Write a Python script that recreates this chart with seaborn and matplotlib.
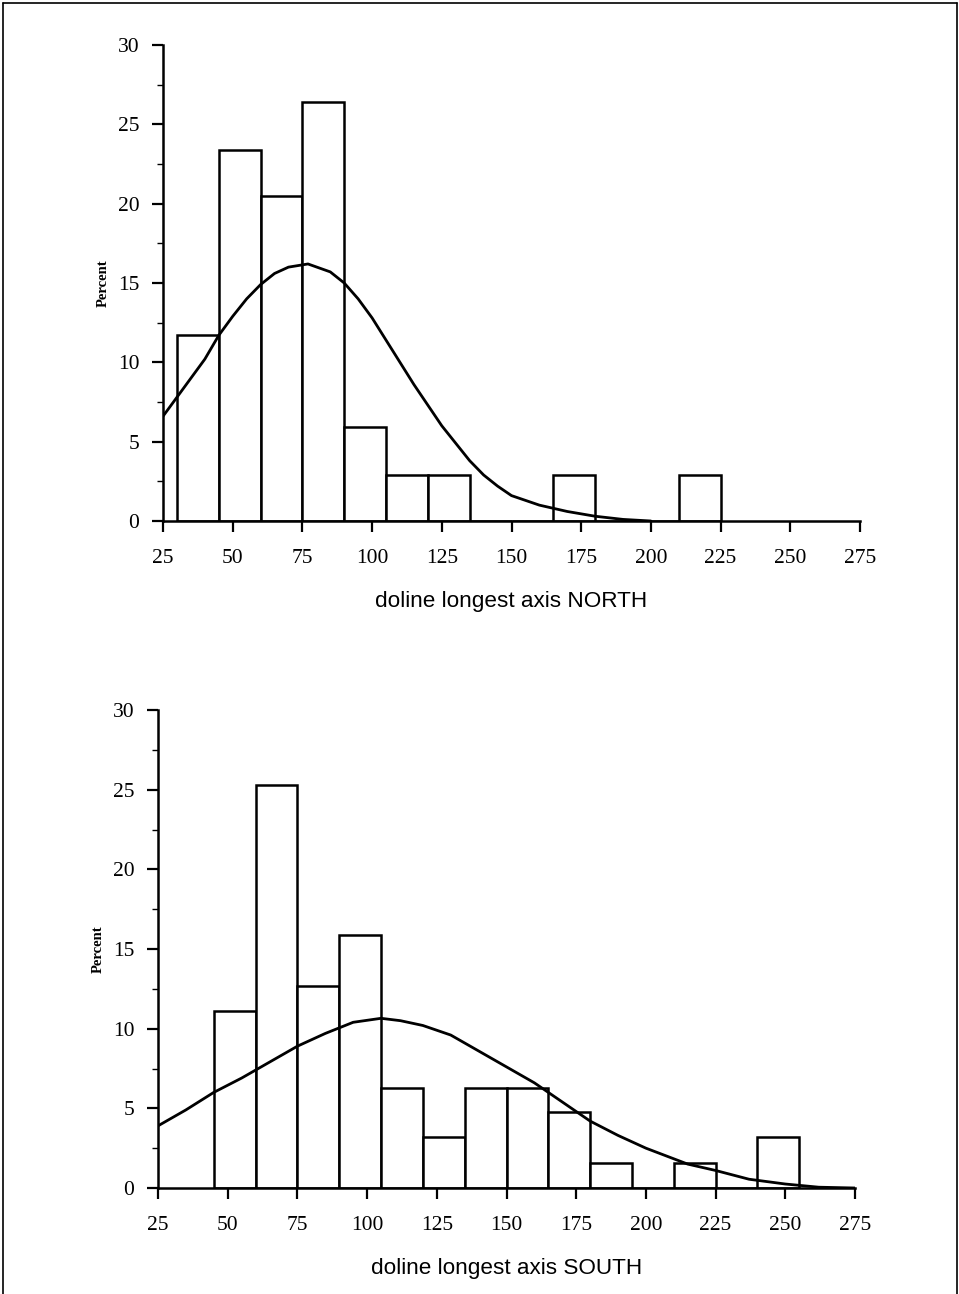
import numpy as np
import matplotlib
matplotlib.use("Agg")
import matplotlib.pyplot as plt
from matplotlib.lines import Line2D
from matplotlib.ticker import MultipleLocator
import seaborn as sns

# ---------------- data ----------------
bin_width = 15
north_bin_start = [30, 45, 60, 75, 90, 105, 120, 165, 210]
north_percent = [11.7, 23.4, 20.5, 26.4, 5.9, 2.9, 2.9, 2.9, 2.9]

south_bin_start = [45, 60, 75, 90, 105, 120, 135, 150, 165, 180, 210, 240]
south_percent = [11.1, 25.3, 12.7, 15.9, 6.3, 3.2, 6.3, 6.3, 4.8, 1.6, 1.6, 3.2]

north_curve_x = [25, 30, 35, 40, 45, 50, 55, 60, 65, 70, 77, 85, 90, 95, 100,
                 105, 110, 115, 120, 125, 130, 135, 140, 145, 150, 160, 170,
                 180, 190, 200]
north_curve_y = [6.6, 7.8, 9.0, 10.2, 11.7, 12.9, 14.0, 14.9, 15.6, 16.0, 16.2,
                 15.7, 15.0, 14.0, 12.8, 11.4, 10.0, 8.6, 7.3, 6.0, 4.9, 3.8,
                 2.9, 2.2, 1.6, 1.0, 0.6, 0.3, 0.1, 0.0]

south_curve_x = [25, 35, 45, 55, 65, 75, 85, 95, 105, 112, 120, 130, 140, 150,
                 160, 170, 180, 190, 200, 215, 225, 237, 250, 262, 275]
south_curve_y = [3.9, 4.9, 6.0, 6.9, 7.9, 8.9, 9.7, 10.4, 10.65, 10.5, 10.2,
                 9.6, 8.6, 7.6, 6.6, 5.4, 4.2, 3.3, 2.5, 1.5, 1.1, 0.55, 0.25,
                 0.05, 0.0]

x_ticks = [25, 50, 75, 100, 125, 150, 175, 200, 225, 250, 275]
y_ticks = [0, 5, 10, 15, 20, 25, 30]
north_label = "doline longest axis NORTH"
south_label = "doline longest axis SOUTH"
y_label = "Percent"

# ---------------- style ----------------
sns.set_style("ticks")
plt.rcParams["font.family"] = ["Liberation Serif", "DejaVu Serif"]
plt.rcParams["text.color"] = "black"
plt.rcParams["axes.labelcolor"] = "black"
plt.rcParams["xtick.color"] = "black"
plt.rcParams["ytick.color"] = "black"

W, H = 959, 1294
fig = plt.figure(figsize=(W / 100, H / 100), dpi=100)
fig.patch.set_facecolor("white")


def px_axes(left, right, top, bottom):
    return [left / W, 1 - bottom / H, (right - left) / W, (bottom - top) / H]


def draw(ax, starts, pct, cx, cy, xlabel):
    starts = np.asarray(starts, dtype=float)
    lo = starts.min()
    hi = starts.max() + bin_width
    sns.histplot(x=starts + bin_width / 2, weights=pct, binwidth=bin_width,
                 binrange=(lo, hi), stat="count", ax=ax,
                 color="white", edgecolor="black", linewidth=1.8, alpha=1)
    sns.lineplot(x=cx, y=cy, ax=ax, color="black", linewidth=2.0)
    ax.set_xlim(25, 275)
    ax.set_ylim(0, 30)
    ax.set_xticks(x_ticks)
    ax.set_yticks(y_ticks)
    ax.yaxis.set_minor_locator(MultipleLocator(2.5))
    ax.tick_params(axis="x", which="major", length=8, width=1.6, pad=12,
                   labelsize=15.5, direction="out", colors="black")
    ax.tick_params(axis="y", which="major", length=8, width=1.6, pad=9,
                   labelsize=15.5, direction="out", colors="black")
    ax.tick_params(axis="y", which="minor", length=4, width=1.0,
                   direction="out", colors="black")
    for s in ["top", "right"]:
        ax.spines[s].set_visible(False)
    for s in ["left", "bottom"]:
        ax.spines[s].set_linewidth(1.8)
        ax.spines[s].set_color("black")
    ax.set_xlabel(xlabel, fontsize=16.2, color="black",
                  family=["Liberation Sans", "DejaVu Sans"], labelpad=17)
    ax.set_ylabel(y_label, fontsize=10.5, fontweight="bold", color="black",
                  labelpad=6)
    ax.set_facecolor("white")


ax1 = fig.add_axes(px_axes(163, 860, 45, 521))
draw(ax1, north_bin_start, north_percent, north_curve_x, north_curve_y, north_label)

ax2 = fig.add_axes(px_axes(158, 855, 710, 1188))
draw(ax2, south_bin_start, south_percent, south_curve_x, south_curve_y, south_label)

# scan border
for (x0, y0, x1, y1) in [(3, 3, 3, H), (3, 3, 957, 3), (957, 3, 957, H)]:
    fig.add_artist(Line2D([x0 / W, x1 / W], [1 - y0 / H, 1 - y1 / H],
                          transform=fig.transFigure, color="black", linewidth=1.2))

fig.savefig("out.png", dpi=100, facecolor="white")
